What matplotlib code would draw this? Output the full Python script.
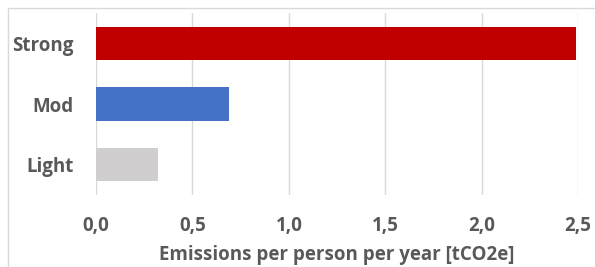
import matplotlib.pyplot as plt
from matplotlib.patches import Rectangle

categories = ['Light', 'Mod', 'Strong']
values = [0.32, 0.69, 2.49]
colors = ['#D0CECE', '#4472C4', '#C00000']
xticks = [0.0, 0.5, 1.0, 1.5, 2.0, 2.5]
xticklabels = ['0,0', '0,5', '1,0', '1,5', '2,0', '2,5']

plt.rcParams['font.family'] = ['Open Sans', 'DejaVu Sans']
txt = '#595959'

fig = plt.figure(figsize=(5.95, 2.67), dpi=100)
ax = fig.add_axes([96 / 595, 1 - 195 / 267, (578 - 96) / 595, 182 / 267])

ax.barh(range(len(categories)), values, height=0.55, color=colors, zorder=3)

ax.set_xlim(0, 2.5)
ax.set_ylim(-0.5, 2.5)
ax.set_xticks(xticks)
ax.set_xticklabels(xticklabels, fontsize=13.5, fontweight='bold', color=txt,
                   va='baseline')
ax.set_yticks(range(len(categories)))
ax.set_yticklabels(categories, fontsize=13.5, fontweight='bold', color=txt)
ax.tick_params(axis='both', length=0)
ax.tick_params(axis='x', pad=26)
ax.tick_params(axis='y', pad=16)
ax.xaxis.grid(True, color='#D9D9D9', linewidth=1, zorder=0)
for s in ax.spines.values():
    s.set_visible(False)

ax.set_xlabel('Emissions per person per year [tCO2e]', fontsize=13.5,
              fontweight='bold', color=txt, va='baseline')
ax.xaxis.set_label_coords(0.5, -65 / 182)

fig.patches.append(Rectangle((8 / 595, -0.1), 1.0, 1 - 8 / 267 + 0.1,
                             transform=fig.transFigure, fill=False,
                             edgecolor='#D9D9D9', linewidth=1))

fig.savefig('out.png', dpi=100)
